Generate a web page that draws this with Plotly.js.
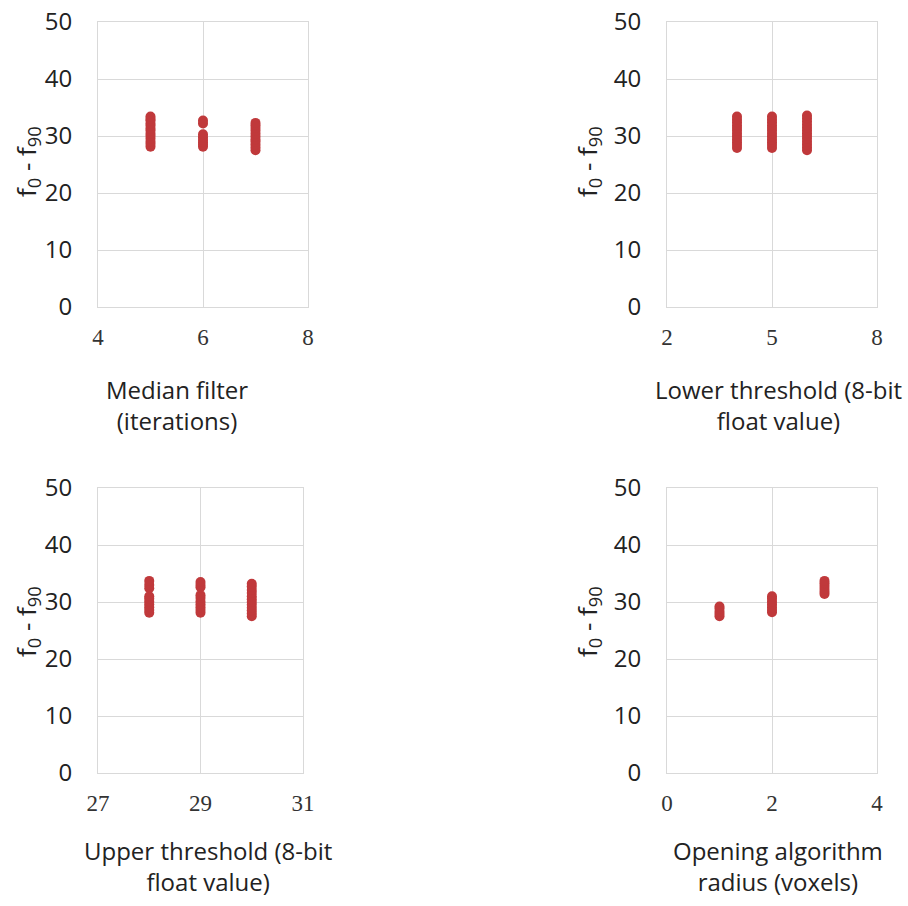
<!DOCTYPE html>
<html>
<head>
<meta charset="utf-8">
<script src="https://cdn.plot.ly/plotly-3.0.1.min.js"></script>
<style>html,body{margin:0;padding:0;background:#fff;}#chart{width:908px;height:906px;}</style>
</head>
<body>
<div id="chart"></div>
<script>
// ---- Data ----
// Panel 1: Median filter (iterations)
const medianX = [5,5,5,5,5,5,5,5,5,5,5,5,5, 6,6,6,6,6,6,6,6, 7,7,7,7,7,7,7,7,7,7,7];
const medianY = [28.1,28.6,29.0,29.5,30.0,30.4,30.9,31.3,31.8,32.2,32.7,33.0,33.4,
                 28.1,28.5,28.9,29.3,29.8,30.3,32.2,32.7,
                 27.5,28.0,28.5,29.0,29.4,29.9,30.4,30.9,31.4,31.9,32.3];
// Panel 2: Lower threshold (8-bit float value)
const lowerX = [4,4,4,4,4,4,4,4,4,4,4,4, 5,5,5,5,5,5,5,5,5,5,5,5, 6,6,6,6,6,6,6,6,6,6,6,6,6];
const lowerY = [27.9,28.4,28.9,29.4,29.9,30.4,30.9,31.4,31.9,32.4,32.9,33.4,
                27.9,28.4,28.9,29.4,29.9,30.4,30.9,31.4,31.9,32.4,32.9,33.4,
                27.5,28.0,28.5,29.0,29.5,30.0,30.5,31.0,31.5,32.0,32.6,33.1,33.6];
// Panel 3: Upper threshold (8-bit float value)
const upperX = [28,28,28,28,28,28,28,28,28,28, 29,29,29,29,29,29,29,29,29,29, 30,30,30,30,30,30,30,30,30,30,30,30];
const upperY = [28.1,28.6,29.1,29.6,30.1,30.6,31.0,32.4,33.0,33.7,
                28.1,28.6,29.1,29.6,30.1,30.7,31.2,32.6,33.0,33.5,
                27.5,28.0,28.5,29.0,29.5,30.0,30.5,31.0,31.6,32.1,32.7,33.2];
// Panel 4: Opening algorithm radius (voxels)
const openX = [1,1,1,1,1, 2,2,2,2,2,2,2, 3,3,3,3,3,3];
const openY = [27.5,27.9,28.3,28.8,29.2,
               28.2,28.6,29.1,29.6,30.1,30.6,31.0,
               31.4,31.8,32.3,32.8,33.3,33.7];

const xTitles = ["Median filter<br>(iterations)", "Lower threshold (8-bit<br>float value)",
                 "Upper threshold (8-bit<br>float value)", "Opening algorithm<br>radius (voxels)"];
const xRanges = [[4,8],[2,8],[27,31],[0,4]];
const xDticks = [2,3,2,2];
const yTitle = "f<sub>0</sub> - f<sub>90</sub>";

const W = 908, H = 906;
const px = v => v / W, py = v => 1 - v / H;

const red = "#c0393b";
const mk = {color: red, size: 10, line: {width: 0}};
const data = [
  {x: medianX, y: medianY, xaxis: "x", yaxis: "y", type: "scatter", mode: "markers", marker: mk},
  {x: lowerX, y: lowerY, xaxis: "x2", yaxis: "y2", type: "scatter", mode: "markers", marker: mk},
  {x: upperX, y: upperY, xaxis: "x3", yaxis: "y3", type: "scatter", mode: "markers", marker: mk},
  {x: openX, y: openY, xaxis: "x4", yaxis: "y4", type: "scatter", mode: "markers", marker: mk}
];

const grid = "#d9d9d9";
function xa(i, dom) {
  return {domain: dom, range: xRanges[i], dtick: xDticks[i], tick0: xRanges[i][0],
    showgrid: true, gridcolor: grid, gridwidth: 1, zeroline: false,
    showline: true, mirror: true, linecolor: grid, linewidth: 1,
    ticks: "", ticklabelstandoff: 9,
    tickfont: {family: "Liberation Serif, Times New Roman, serif", size: 23, color: "#333"},
    fixedrange: true};
}
function ya(dom) {
  return {domain: dom, range: [0,50], dtick: 10, tick0: 0,
    showgrid: true, gridcolor: grid, gridwidth: 1, zeroline: false,
    showline: true, mirror: true, linecolor: grid, linewidth: 1,
    ticks: "", ticklabelstandoff: 20,
    tickfont: {family: "Open Sans, Noto Sans, sans-serif", size: 24, color: "#222"},
    fixedrange: true};
}

const leftX = [px(98), px(308)], leftX3 = [px(98), px(303)], rightX = [px(667), px(877)];
const topY = [py(307), py(22)], botY = [py(773), py(488)];

const anns = [];
const titleFont = {family: "Open Sans, Noto Sans, sans-serif", size: 24, color: "#222"};
const xtPos = [[177, 405], [778, 405], [208, 866], [778, 866]];
xTitles.forEach((t, i) => {
  anns.push({text: t, xref: "paper", yref: "paper", x: px(xtPos[i][0]), y: py(xtPos[i][1]),
    xanchor: "center", yanchor: "middle", showarrow: false, font: titleFont, align: "center"});
});
const ytPos = [[27, 162], [588, 162], [27, 622], [588, 622]];
ytPos.forEach(p => {
  anns.push({text: yTitle, xref: "paper", yref: "paper", x: px(p[0]), y: py(p[1]),
    xanchor: "center", yanchor: "middle", showarrow: false, textangle: -90,
    font: {family: "Open Sans, Noto Sans, sans-serif", size: 26, color: "#222"}});
});

const layout = {
  width: W, height: H, margin: {l: 0, r: 0, t: 0, b: 0},
  paper_bgcolor: "#fff", plot_bgcolor: "#fff", showlegend: false,
  xaxis: Object.assign(xa(0, leftX), {anchor: "y"}),
  yaxis: Object.assign(ya(topY), {anchor: "x"}),
  xaxis2: Object.assign(xa(1, rightX), {anchor: "y2"}),
  yaxis2: Object.assign(ya(topY), {anchor: "x2"}),
  xaxis3: Object.assign(xa(2, leftX3), {anchor: "y3"}),
  yaxis3: Object.assign(ya(botY), {anchor: "x3"}),
  xaxis4: Object.assign(xa(3, rightX), {anchor: "y4"}),
  yaxis4: Object.assign(ya(botY), {anchor: "x4"}),
  annotations: anns
};

Plotly.newPlot("chart", data, layout, {displayModeBar: false, staticPlot: true});
</script>
</body>
</html>
